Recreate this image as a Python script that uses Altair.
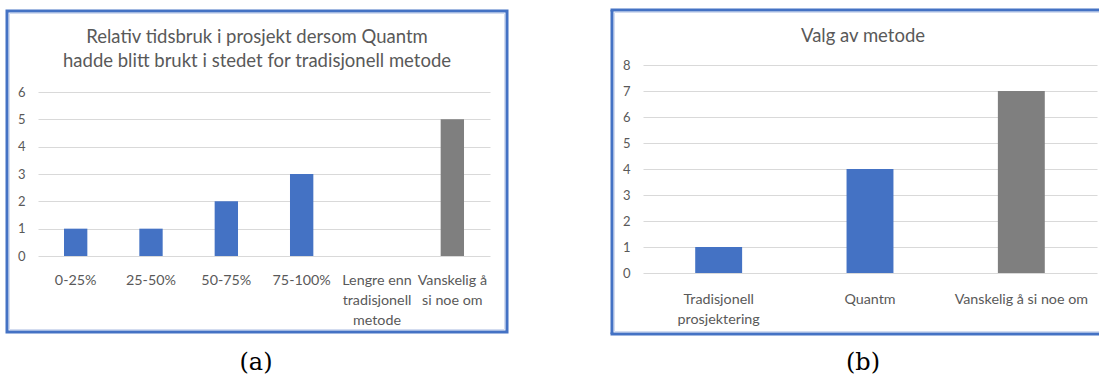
import altair as alt
import pandas as pd

# ---------------- data ----------------
cats_a = ["0-25%", "25-50%", "50-75%", "75-100%",
          "Lengre enn\ntradisjonell\nmetode", "Vanskelig å\nsi noe om"]
vals_a = [1, 1, 2, 3, 0, 5]
ticks_a = [0, 1, 2, 3, 4, 5, 6]
title_a = ["Relativ tidsbruk i prosjekt dersom Quantm",
           "hadde blitt brukt i stedet for tradisjonell metode"]
caption_a = "(a)"

cats_b = ["Tradisjonell\nprosjektering", "Quantm", "Vanskelig å si noe om"]
vals_b = [1, 4, 7]
ticks_b = [0, 1, 2, 3, 4, 5, 6, 7, 8]
title_b = "Valg av metode"
caption_b = "(b)"

# ---------------- style ----------------
BLUE = "#4472C4"
GRAY = "#7F7F7F"
TXT = "#595959"
GRID = "#D9D9D9"
INNER = "#D3DCF0"
FONT = "Lato"
CAP_FONT = "DejaVu Serif"

one = alt.Data(values=[{"k": 0}])


def bars(cats, vals, ticks, ymax, label_pad):
    df = pd.DataFrame({"kategori": cats, "antall": vals})
    return alt.Chart(df).mark_bar().encode(
        x=alt.X("kategori:N", sort=cats, title=None,
                scale=alt.Scale(paddingInner=0.69, paddingOuter=0.345),
                axis=alt.Axis(labelAngle=0, labelExpr="split(datum.label, '\\n')",
                              labelPadding=label_pad, domain=False, ticks=False,
                              tickSize=0, grid=False, labelLineHeight=20,
                              labelFontSize=14.3, labelColor=TXT, labelFont=FONT,
                              labelOverlap=False, labelLimit=0)),
        y=alt.Y("antall:Q", title=None,
                scale=alt.Scale(domain=[0, ymax], nice=False, zero=True),
                axis=alt.Axis(values=ticks, grid=True, gridColor=GRID, gridWidth=1,
                              domain=False, ticks=False, tickSize=0, labelPadding=13,
                              labelFontSize=13, labelColor=TXT, labelFont=FONT)),
        color=alt.condition("indexof(datum.kategori, 'Vanskelig') === 0",
                            alt.value(GRAY), alt.value(BLUE)),
    )


def text(t, x, y, font, size, color, lh=None):
    kw = dict(font=font, fontSize=size, color=color, align="center", baseline="middle")
    if lh is not None:
        kw["lineHeight"] = lh
    return alt.Chart(one).mark_text(**kw).encode(
        x=alt.value(x), y=alt.value(y), text=alt.value(t))


def rule(x, y, x2=None, y2=None, color=BLUE, w=3):
    enc = dict(x=alt.value(x), y=alt.value(y))
    if x2 is not None:
        enc["x2"] = alt.value(x2)
    if y2 is not None:
        enc["y2"] = alt.value(y2)
    return alt.Chart(one).mark_rule(color=color, strokeWidth=w, strokeCap="butt").encode(**enc)


# ---------------- panel (a) ----------------
W_A, H_A = 452, 191
ymax_a = H_A / ((257 - 93) / 6.0)
frame_a = alt.Chart(one).mark_rect(filled=False, stroke=BLUE, strokeWidth=3).encode(
    x=alt.value(-31), x2=alt.value(469), y=alt.value(-54), y2=alt.value(267))
inner_a = alt.Chart(one).mark_rect(filled=False, stroke=INNER, strokeWidth=1).encode(
    x=alt.value(-28.5), x2=alt.value(466.5), y=alt.value(-51.5), y2=alt.value(264.5))
panel_a = alt.layer(
    inner_a,
    bars(cats_a, vals_a, ticks_a, ymax_a, 17),
    frame_a,
    text(title_a, 219, -28, FONT, 18.5, TXT, lh=24),
    text(caption_a, 218, 298, CAP_FONT, 24, "black"),
).properties(width=W_A, height=H_A)

# ---------------- panel (b) ----------------
W_B, H_B = 454, 208
panel_b = alt.layer(
    rule(-28.5, -52.5, y2=266.5, color=INNER, w=1),
    rule(-28.5, -52.5, x2=456, color=INNER, w=1),
    rule(-28.5, 266.5, x2=456, color=INNER, w=1),
    bars(cats_b, vals_b, ticks_b, 8, 19),
    rule(-31, -55, y2=269),
    rule(-32.5, -55, x2=456),
    rule(-32.5, 269, x2=456),
    text(title_b, 220, -29, FONT, 18.5, TXT),
    text(caption_b, 220, 298, CAP_FONT, 24, "black"),
).properties(width=W_B, height=H_B)

chart = alt.hconcat(panel_a, panel_b, spacing=100).properties(
    padding={"left": 5, "top": 8, "right": 0, "bottom": 0},
    background="white",
).configure_view(strokeWidth=0, strokeOpacity=0)

chart.save("out.html", embed_options={"renderer": "svg", "actions": False})
